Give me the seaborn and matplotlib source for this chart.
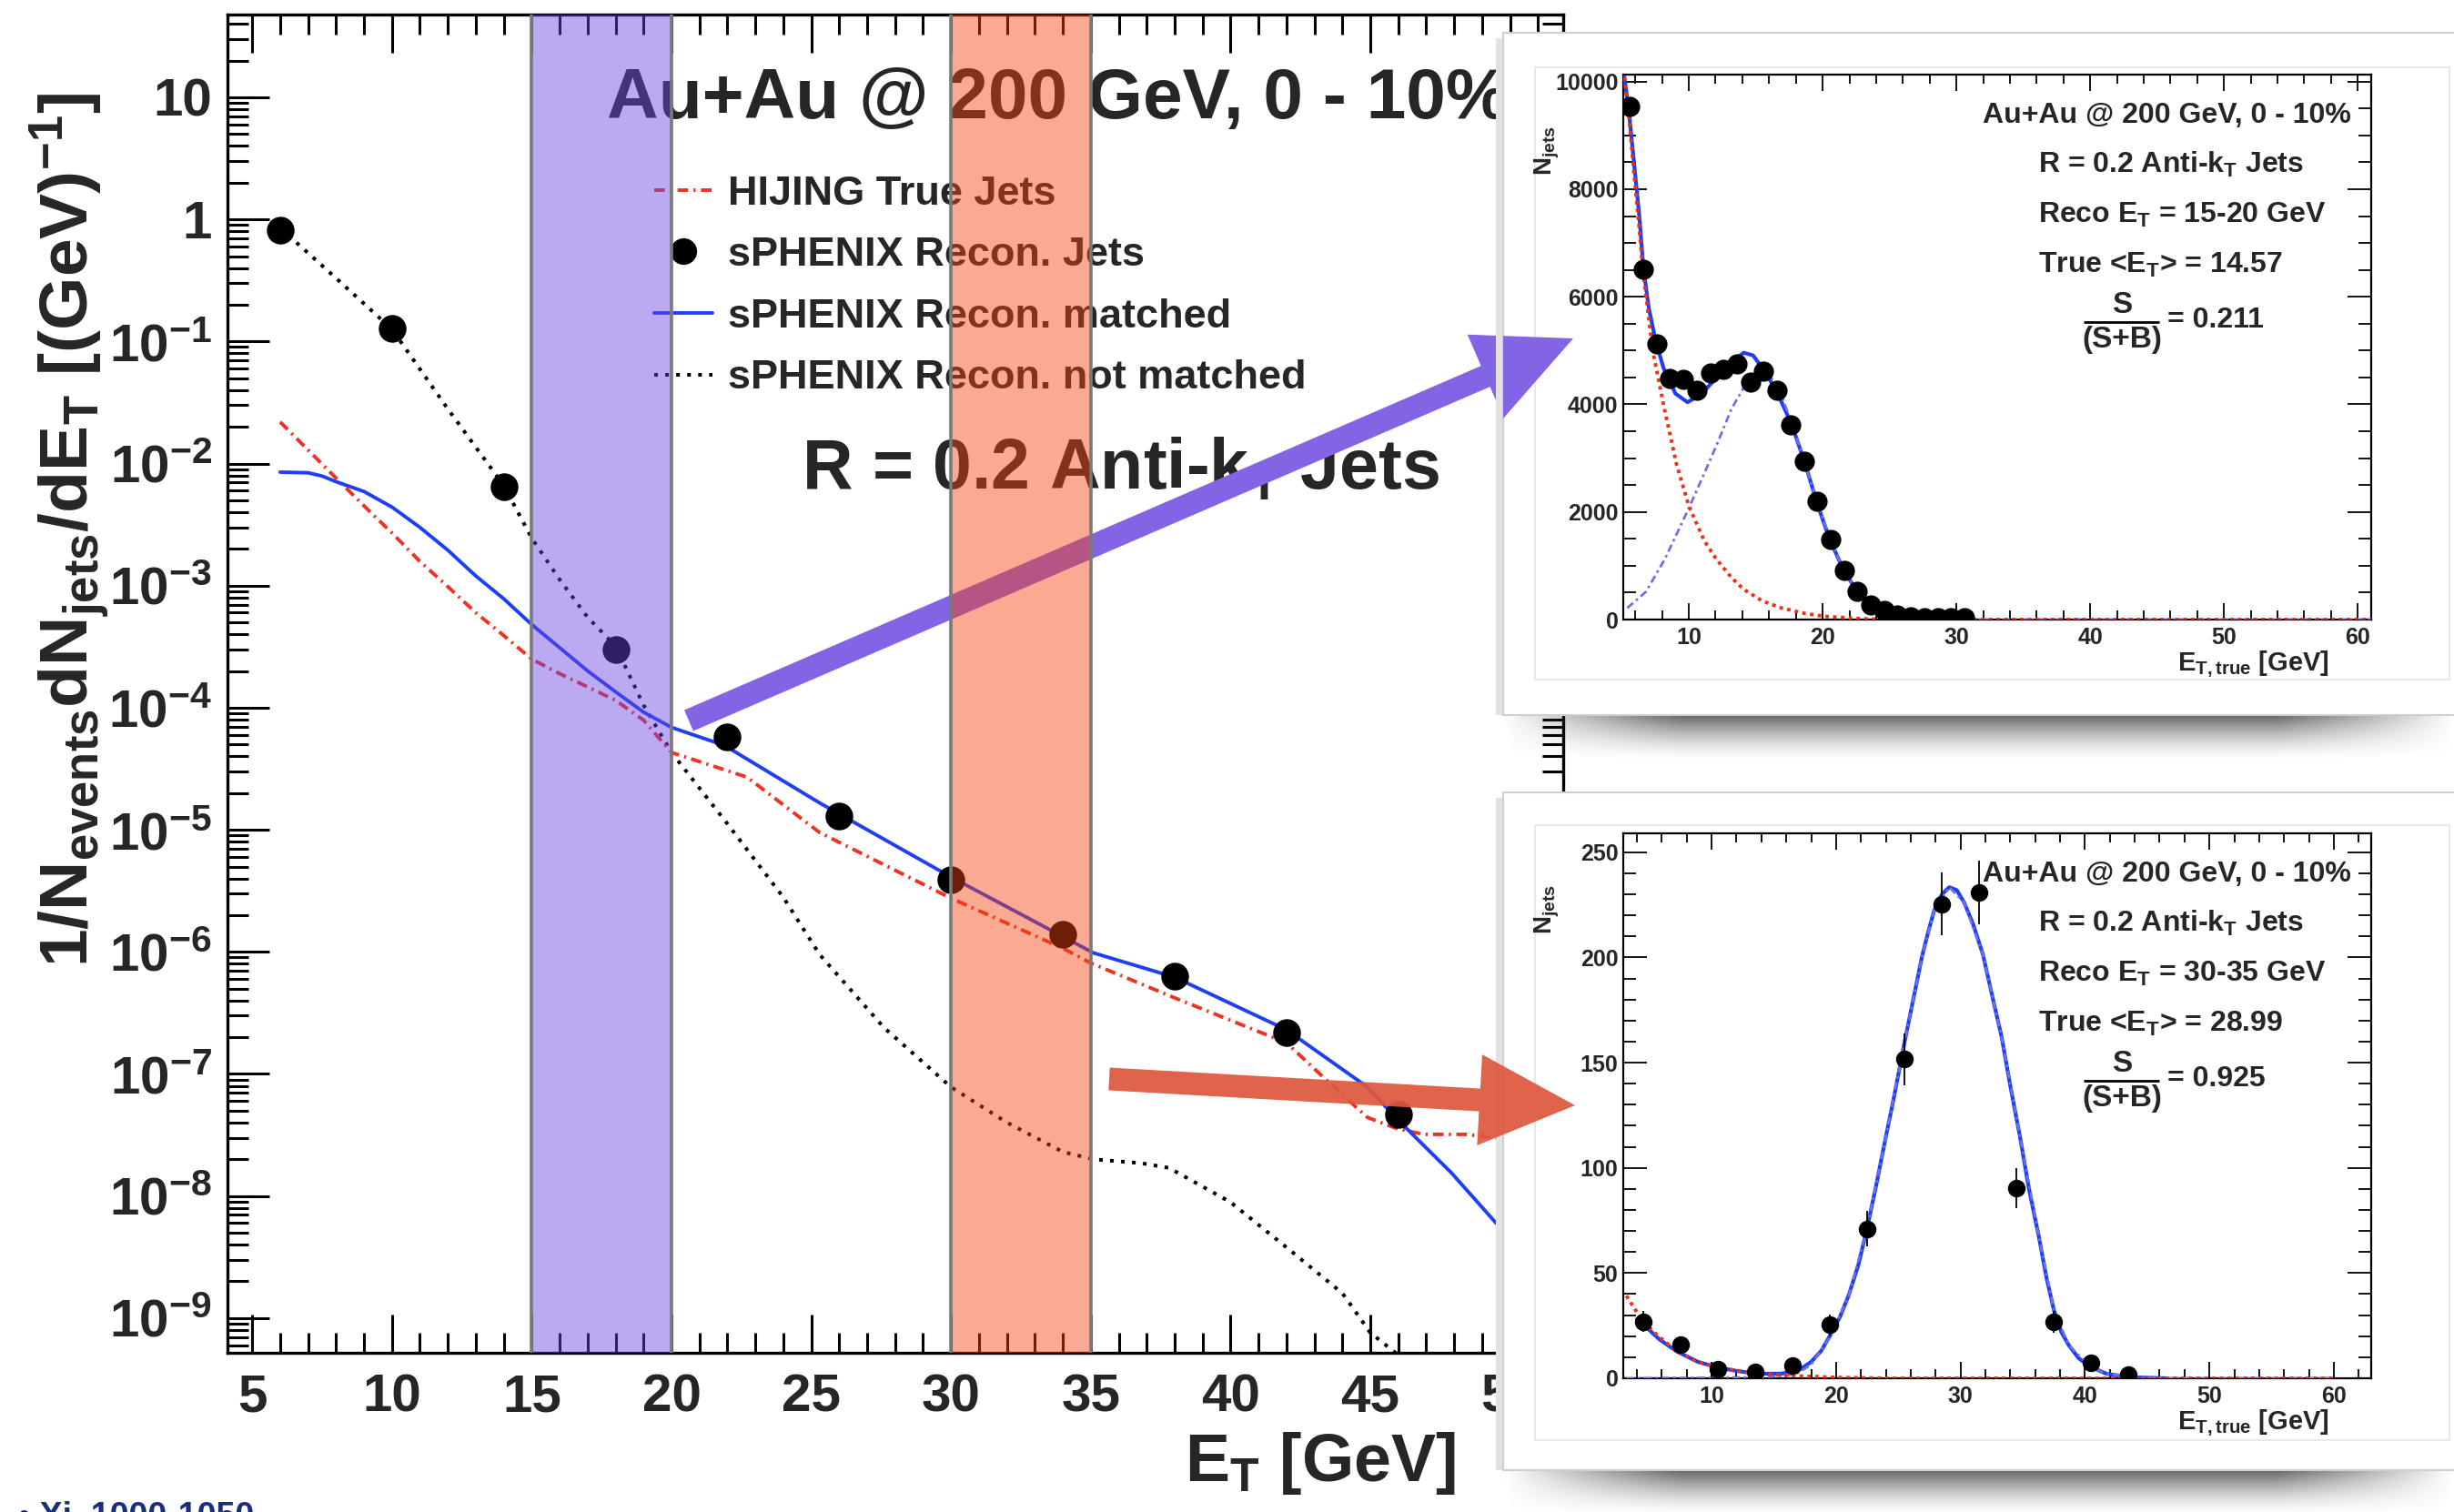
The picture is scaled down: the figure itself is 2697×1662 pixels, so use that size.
import numpy as np
import matplotlib
matplotlib.use("Agg")
import matplotlib.pyplot as plt
import seaborn as sns
from matplotlib.lines import Line2D
from matplotlib.patches import Rectangle, FancyArrow
from matplotlib.ticker import (FixedLocator, FixedFormatter, MultipleLocator,
                               LogLocator, NullFormatter)

# ---------------- main spectrum (per-event yield vs E_T) ----------------
et_points = [6, 10, 14, 18, 22, 26, 30, 34, 38, 42, 46, 50]
recon_jets = [0.82, 0.128, 6.5e-3, 3.0e-4, 5.8e-5, 1.29e-5, 3.9e-6, 1.39e-6,
              6.3e-7, 2.2e-7, 4.7e-8, 5.0e-9]

hijing_x = [6, 7, 8, 9, 10, 11, 12, 13, 14, 15, 16, 17, 18, 19, 20, 22.7, 25.3,
            30, 34, 35, 38, 42, 43.7, 44.9, 45.9, 46.9, 48.4, 49.5]
hijing_y = [2.19e-2, 1.29e-2, 7.6e-3, 4.5e-3, 2.7e-3, 1.58e-3, 9.8e-4, 6.0e-4,
            3.9e-4, 2.5e-4, 1.9e-4, 1.48e-4, 1.15e-4, 7.9e-5, 4.3e-5, 2.7e-5,
            9.5e-6, 2.75e-6, 1.07e-6, 8.1e-7, 4.2e-7, 1.8e-7, 7.8e-8, 4.4e-8,
            3.6e-8, 3.2e-8, 3.2e-8, 3.0e-8]

matched_x = [6, 7, 7.5, 8, 9, 10, 11, 12, 13, 14, 15, 16, 17, 18, 19, 20, 21.9,
             25.3, 30, 35.1, 38, 42, 44.9, 45.9, 47.9, 49.5, 50.2]
matched_y = [8.5e-3, 8.4e-3, 7.9e-3, 7.1e-3, 5.9e-3, 4.4e-3, 3.0e-3, 1.95e-3,
             1.2e-3, 7.8e-4, 4.8e-4, 3.1e-4, 2.0e-4, 1.35e-4, 9.2e-5, 6.9e-5,
             4.9e-5, 1.66e-5, 4.1e-6, 9.8e-7, 6.2e-7, 2.3e-7, 7.8e-8, 4.4e-8,
             1.55e-8, 6.0e-9, 4.5e-9]

unmatched_x = [6, 8, 10, 12, 14, 15, 16, 17, 18, 19, 20, 22, 24, 25.3, 27.6, 30,
               32, 34, 35.1, 36.8, 37.8, 40, 42, 44, 45, 45.9, 46.5]
unmatched_y = [0.85, 0.33, 0.126, 2.8e-2, 6.6e-3, 2.45e-3, 1.12e-3, 5.5e-4,
               3.2e-4, 1.05e-4, 4.3e-5, 1.12e-5, 2.8e-6, 9.5e-7, 2.4e-7, 7.8e-8,
               4.0e-8, 2.3e-8, 2.0e-8, 1.86e-8, 1.7e-8, 8.9e-9, 3.8e-9, 1.6e-9,
               7.6e-10, 5.2e-10, 3.2e-10]

decades = [1e-9, 1e-8, 1e-7, 1e-6, 1e-5, 1e-4, 1e-3, 1e-2, 1e-1, 1, 10]
decade_labels = [r'$10^{-9}$', r'$10^{-8}$', r'$10^{-7}$', r'$10^{-6}$',
                 r'$10^{-5}$', r'$10^{-4}$', r'$10^{-3}$', r'$10^{-2}$',
                 r'$10^{-1}$', '1', '10']
bands = [(15, 20), (30, 35)]

# ---------------- inset 1: reco E_T = 15-20 GeV ----------------
in1_x = [5.6, 6.6, 7.6, 8.6, 9.6, 10.6, 11.6, 12.6, 13.6, 14.6, 15.6, 16.6, 17.6,
         18.6, 19.6, 20.6, 21.6, 22.6, 23.6, 24.6, 25.6, 26.6, 27.6, 28.6, 29.6, 30.6]
in1_y = [9543, 6509, 5129, 4483, 4457, 4267, 4586, 4655, 4759, 4422, 4612, 4267,
         3621, 2948, 2198, 1483, 905, 517, 276, 172, 86, 43, 40, 40, 40, 40]
in1_tot_x = [5.18, 5.5, 5.9, 6.3, 6.6, 7.0, 7.5, 8.1, 9.0, 9.9, 10.9, 12.0, 13.2,
             14.1, 14.8, 15.7, 16.6, 17.7, 18.7, 19.6, 20.5, 21.6, 22.6, 23.6,
             24.7, 25.6, 27.4, 30.2]
in1_tot_y = [10086, 9500, 8500, 7500, 6550, 5800, 5200, 4680, 4200, 4040, 4180,
             4480, 4780, 4960, 4910, 4610, 4220, 3620, 2890, 2150, 1510, 900, 520,
             300, 170, 86, 17, 0]
in1_bkg_x = [5.18, 5.5, 5.9, 6.3, 6.56, 7.3, 8.17, 9.08, 10.0, 11.15, 12.06, 13.2,
             14.1, 15.5, 16.9, 18.7, 20.1, 22.8, 25.1, 61]
in1_bkg_y = [10086, 9400, 8300, 7250, 6509, 5000, 3922, 2888, 2112, 1466, 1121,
             776, 560, 345, 216, 112, 60, 17, 0, 0]
in1_sig_x = [5.4, 6.8, 8.2, 9.1, 10.0, 11.15, 12.06, 13.2, 14.1, 15.0, 15.7, 16.65,
             17.66, 18.7, 19.6, 20.55, 21.6, 22.6, 23.6, 24.7, 25.6, 27.4, 30.2, 61]
in1_sig_y = [215, 517, 1121, 1595, 2069, 2715, 3233, 3922, 4310, 4569, 4612, 4353,
             3664, 2888, 2155, 1509, 905, 517, 302, 155, 86, 17, 0, 0]

# ---------------- inset 2: reco E_T = 30-35 GeV ----------------
in2_x = [4.5, 7.5, 10.5, 13.5, 16.5, 19.5, 22.5, 25.5, 28.5, 31.5, 34.5, 37.5, 40.5, 43.5]
in2_y = [26.9, 16.1, 4.5, 2.9, 6.0, 25.3, 71, 151.7, 225.4, 231, 90.2, 26.9, 7.2, 1.6]
in2_err = [5, 4, 2, 1.7, 2.4, 5, 8.4, 12.3, 15, 15.2, 9.5, 5.2, 2.7, 1.3]
in2_tot_x = [3.99, 4.48, 5.8, 7.19, 8.9, 10.5, 12.1, 13.6, 15.6, 17.0, 18.0, 18.8,
             19.5, 20.3, 21.0, 21.8, 22.5, 23.2, 23.9, 24.7, 25.4, 26.2, 26.9,
             27.4, 27.9, 28.5, 29.1, 29.7, 30.3, 31.0, 31.8, 32.5, 33.3, 34.0,
             34.8, 35.5, 36.3, 36.9, 37.5, 38.1, 38.7, 39.5, 40.4, 41.7, 43.0,
             44.1, 46.6]
in2_tot_y = [28, 25.7, 18.5, 12.8, 7.8, 5.1, 3.4, 2.2, 2.2, 3.8, 7.8, 13, 20.1,
             29, 39.2, 54, 71.6, 91, 111.9, 135, 156.7, 180, 200.3, 212, 222.7,
             230, 233.4, 232, 226, 216, 201.4, 183, 162.3, 139, 114.1, 90, 67.1,
             48, 32.5, 22, 15.7, 9.5, 5.6, 2.2, 1.0, 0.4, 0]
in2_bkg_x = [3.15, 4.48, 5.7, 7.2, 8.9, 10.5, 13.6, 17.0, 20.0, 24.4, 60]
in2_bkg_y = [39.2, 26.9, 20.1, 12.8, 7.8, 5.1, 2.2, 1.1, 0.4, 0, 0]
in2_sig_x = [3.15, 14, 16, 17, 18, 19.5, 21.0, 22.5, 23.9, 25.4, 26.9, 27.9, 29.1,
             30.3, 31.8, 33.3, 34.8, 36.3, 37.5, 38.7, 40.4, 41.7, 44.1, 46.6, 60]
in2_sig_y = [0, 0.5, 1.2, 2.7, 6.5, 19.5, 38.8, 71.4, 111.9, 156.7, 200.3, 222.7,
             233.4, 226, 201.4, 162.3, 114.1, 67.1, 32.5, 15.7, 5.6, 2.2, 0.4, 0, 0]

W, H = 2697, 1662

sns.set_theme(style="ticks")
plt.rcParams['font.family'] = ['Liberation Sans', 'DejaVu Sans']
plt.rcParams['font.weight'] = 'bold'
plt.rcParams['mathtext.fontset'] = 'custom'
for k in ['rm', 'it', 'bf', 'sf']:
    plt.rcParams['mathtext.' + k] = 'Liberation Sans:bold'

fig = plt.figure(figsize=(W / 100, H / 100), dpi=100, facecolor='white')


def frac_box(x0, y0, x1, y1):
    # pixel box (top-left origin) -> figure fraction rect
    return [x0 / W, 1 - y1 / H, (x1 - x0) / W, (y1 - y0) / H]


# ---------------- main axes ----------------
ax = fig.add_axes(frac_box(249.5, 16, 1718, 1487), zorder=1)
ax.set_yscale('log')

RED = '#EE3322'
BLUE = '#1E40F5'
dashdot = (0, (3, 1.5, 0.6, 1.5))
dotted = (0, (1, 2))

sns.lineplot(x=unmatched_x, y=unmatched_y, ax=ax, color='black', lw=2.9,
             linestyle=dotted, sort=False, estimator=None, zorder=5)
sns.lineplot(x=hijing_x, y=hijing_y, ax=ax, color=RED, lw=2.8,
             linestyle=dashdot, sort=False, estimator=None, zorder=5)
sns.lineplot(x=matched_x, y=matched_y, ax=ax, color=BLUE, lw=2.8,
             sort=False, estimator=None, zorder=5)
sns.scatterplot(x=et_points, y=recon_jets, ax=ax, color='black', s=480,
                linewidth=0, zorder=6, legend=False)

band_colors = ['#6843E3', '#F5410F']
for (lo, hi), c in zip(bands, band_colors):
    ax.axvspan(lo, hi, color=c, alpha=0.45, lw=0, zorder=10)
    for edge in (lo, hi):
        ax.axvline(edge, color='#7a7a7a', lw=2.6, zorder=11)

ax.set_xlim(4.1, 51.9)
ax.set_ylim(5.2e-10, 47.6)
ax.xaxis.set_major_locator(MultipleLocator(5))
ax.xaxis.set_minor_locator(MultipleLocator(1))
ax.yaxis.set_major_locator(FixedLocator(decades))
ax.yaxis.set_major_formatter(FixedFormatter(decade_labels))
ax.yaxis.set_minor_locator(LogLocator(base=10, subs=np.arange(2, 10), numticks=100))
ax.yaxis.set_minor_formatter(NullFormatter())
ax.tick_params(which='both', direction='in', top=True, right=True, width=2.2,
               color='black')
ax.tick_params(axis='y', which='major', length=33, pad=12, labelsize=42)
ax.tick_params(axis='y', which='minor', length=16.5)
ax.tick_params(axis='x', which='major', length=30, pad=16, labelsize=42)
ax.tick_params(axis='x', which='minor', length=16)
for sp in ax.spines.values():
    sp.set_linewidth(2.4)
    sp.set_color('black')
ax.set_xlabel('')
ax.set_ylabel('')

ax.text(0.2843, 0.9225, 'Au+Au @ 200 GeV, 0 - 10%', transform=ax.transAxes,
        fontsize=56.5, ha='left', va='baseline', zorder=4)
ax.text(0.430, 0.6451, r'R = 0.2 Anti-k$_{T}$ Jets', transform=ax.transAxes,
        fontsize=55.5, ha='left', va='baseline', zorder=4)
ax.text(0.9197, -0.0823, r'E$_{T}$ [GeV]', transform=ax.transAxes,
        fontsize=53, ha='right', va='center')
ax.text(-0.118, 0.615, r'1/N$_{events}$dN$_{jets}$/dE$_{T}$ [(GeV)$^{-1}$]',
        transform=ax.transAxes, fontsize=54, rotation=90, ha='center', va='center')

handles = [
    Line2D([], [], color=RED, lw=2.8, linestyle=dashdot),
    Line2D([], [], color='black', marker='o', linestyle='none', markersize=20),
    Line2D([], [], color=BLUE, lw=2.8),
    Line2D([], [], color='black', lw=2.9, linestyle=dotted),
]
labels = ['HIJING True Jets', 'sPHENIX Recon. Jets', 'sPHENIX Recon. matched',
          'sPHENIX Recon. not matched']
leg = ax.legend(handles, labels, loc='upper left', bbox_to_anchor=(0.3197, 0.880),
                frameon=False, prop={'weight': 'bold', 'size': 32.5},
                handlelength=1.42, handletextpad=0.38, labelspacing=0.59,
                borderpad=0, borderaxespad=0)
leg.set_zorder(4)

# ---------------- cards and shadows ----------------
deco = fig.add_axes([0, 0, 1, 1], zorder=2)
deco.patch.set_alpha(0)
deco.axis('off')


def soft_shadow(x0, x1, y0, y1, strength):
    h, w = int(y1 - y0), int(x1 - x0)
    t = np.linspace(0, 1, h)[:, None]
    s = np.linspace(0, 1, w)[None, :]
    alpha = strength * (1 - t) ** 1.5 * np.clip(np.sin(np.pi * s) * 1.8, 0, 1)
    img = np.zeros((h, w, 4))
    img[..., :3] = 0.25
    img[..., 3] = alpha
    deco.imshow(img, extent=(x0, x1, y1, y0), origin='upper', aspect='auto',
                zorder=1, interpolation='bilinear')


for cy0, cy1, fy0, fy1 in [(36, 786, 74, 747), (871, 1616, 907, 1583)]:
    soft_shadow(1652, 2697, cy1, cy1 + 50, 0.8)
    deco.add_patch(Rectangle((1644, cy0 + 6), 8, cy1 - cy0 - 6, facecolor='#e2e2e2',
                             lw=0, zorder=1))
    deco.add_patch(Rectangle((1652, cy0), 1100, cy1 - cy0, facecolor='white',
                             edgecolor='#cfcfcf', lw=1.5, zorder=2))
    deco.add_patch(Rectangle((1687, fy0), 1005, fy1 - fy0, facecolor='white',
                             edgecolor='#e4e4e4', lw=1.2, zorder=3))
deco.set_xlim(0, W)
deco.set_ylim(H, 0)


# ---------------- insets ----------------
def draw_inset(box, xs, ys, tot, bkg, sig, xlim, ylim, ymaj, ymin, reco, mean,
               purity, msize, yerr=None):
    axi = fig.add_axes(frac_box(*box), zorder=3)
    sns.lineplot(x=tot[0], y=tot[1], ax=axi, color=BLUE, lw=3.0,
                 sort=False, estimator=None, zorder=3)
    sns.lineplot(x=sig[0], y=sig[1], ax=axi, color='#7070E0', lw=2.0,
                 linestyle=(0, (3, 1.5, 1, 1.5)), sort=False, estimator=None, zorder=4)
    sns.lineplot(x=bkg[0], y=bkg[1], ax=axi, color='#F03010', lw=2.8,
                 linestyle=(0, (1, 1.2)), sort=False, estimator=None, zorder=4)
    if yerr is not None:
        axi.errorbar(xs, ys, yerr=yerr, fmt='none', ecolor='black',
                     elinewidth=1.3, capsize=0, zorder=5)
    sns.scatterplot(x=xs, y=ys, ax=axi, color='black', s=msize ** 2,
                    linewidth=0, zorder=6, legend=False)
    axi.set_xlim(*xlim)
    axi.set_ylim(*ylim)
    axi.xaxis.set_major_locator(MultipleLocator(10))
    axi.xaxis.set_minor_locator(MultipleLocator(2))
    axi.yaxis.set_major_locator(MultipleLocator(ymaj))
    axi.yaxis.set_minor_locator(MultipleLocator(ymin))
    axi.tick_params(which='both', direction='in', top=True, right=True,
                    width=1.3, color='black', labelsize=18)
    axi.tick_params(axis='x', which='major', length=13, pad=6)
    axi.tick_params(axis='x', which='minor', length=7)
    axi.tick_params(axis='y', which='major', length=19, pad=4)
    axi.tick_params(axis='y', which='minor', length=10)
    for sp in axi.spines.values():
        sp.set_linewidth(1.6)
        sp.set_color('black')
    axi.set_xlabel('')
    axi.set_ylabel('')
    tr = axi.transAxes
    axi.text(0.973, 0.9115, 'Au+Au @ 200 GeV, 0 - 10%', transform=tr,
             fontsize=23, ha='right', va='baseline')
    axi.text(0.5547, 0.8197, r'R = 0.2 Anti-k$_{T}$ Jets', transform=tr,
             fontsize=23, ha='left', va='baseline')
    axi.text(0.5547, 0.728, reco, transform=tr, fontsize=23, ha='left', va='baseline')
    axi.text(0.5547, 0.636, mean, transform=tr, fontsize=23, ha='left', va='baseline')
    # S / (S+B) fraction
    axi.text(0.667, 0.577, 'S', transform=tr, fontsize=24, ha='center', va='center')
    axi.text(0.667, 0.513, '(S+B)', transform=tr, fontsize=24, ha='center', va='center')
    axi.plot([0.616, 0.717], [0.5466, 0.5466], transform=tr, color='black',
             lw=2.0, solid_capstyle='butt')
    axi.text(0.727, 0.549, '= ' + purity, transform=tr, fontsize=23,
             ha='left', va='center')
    axi.text(0.944, -0.082, r'E$_{T,true}$ [GeV]', transform=tr,
             fontsize=21, ha='right', va='center')
    axi.text(-0.102, 0.86, r'N$_{jets}$', transform=tr,
             fontsize=20, rotation=90, ha='center', va='center')
    return axi


draw_inset((1784, 82, 2606, 681), in1_x, in1_y, (in1_tot_x, in1_tot_y),
           (in1_bkg_x, in1_bkg_y), (in1_sig_x, in1_sig_y), (5.1, 61), (0, 10130),
           2000, 500, r'Reco E$_{T}$ = 15-20 GeV', r'True <E$_{T}$> = 14.57',
           '0.211', 16)
draw_inset((1784, 916, 2606, 1515), in2_x, in2_y, (in2_tot_x, in2_tot_y),
           (in2_bkg_x, in2_bkg_y), (in2_sig_x, in2_sig_y), (2.9, 63), (0, 259),
           50, 10, r'Reco E$_{T}$ = 30-35 GeV', r'True <E$_{T}$> = 28.99',
           '0.925', 14, yerr=in2_err)

# ---------------- arrows ----------------
top = fig.add_axes([0, 0, 1, 1], zorder=4)
top.patch.set_alpha(0)
top.axis('off')
top.set_xlim(0, W)
top.set_ylim(H, 0)

PURPLE = '#8364E4'
p_tail, p_tip = (757, 792), (1729, 372)
arrow_geom = dict(width=25, head_width=100, head_length=105,
                  length_includes_head=True, lw=0)
under = FancyArrow(p_tail[0], p_tail[1], p_tip[0] - p_tail[0], p_tip[1] - p_tail[1],
                   color=PURPLE, transform=top.transData, clip_on=False,
                   zorder=8, **arrow_geom)
ax.add_patch(under)
over = FancyArrow(p_tail[0], p_tail[1], p_tip[0] - p_tail[0], p_tip[1] - p_tail[1],
                  color=PURPLE, **arrow_geom)
top.add_patch(over)
over.set_clip_path(Rectangle((1652, 0), W - 1652, H, transform=top.transData))

r_tail, r_tip = (1219, 1186), (1731, 1215)
top.add_patch(FancyArrow(r_tail[0], r_tail[1], r_tip[0] - r_tail[0],
                         r_tip[1] - r_tail[1], color='#DE573E', alpha=0.93,
                         **arrow_geom))
top.set_xlim(0, W)
top.set_ylim(H, 0)
ax.set_xlim(4.1, 51.9)
ax.set_ylim(5.2e-10, 47.6)

fig.text(0.0075, 1 - 1650 / H, u'\u2022 Xi  1000-1050', color='#1A2E80',
         fontsize=27, fontweight='bold', ha='left', va='top')

fig.savefig('out.png', dpi=100, facecolor='white')
